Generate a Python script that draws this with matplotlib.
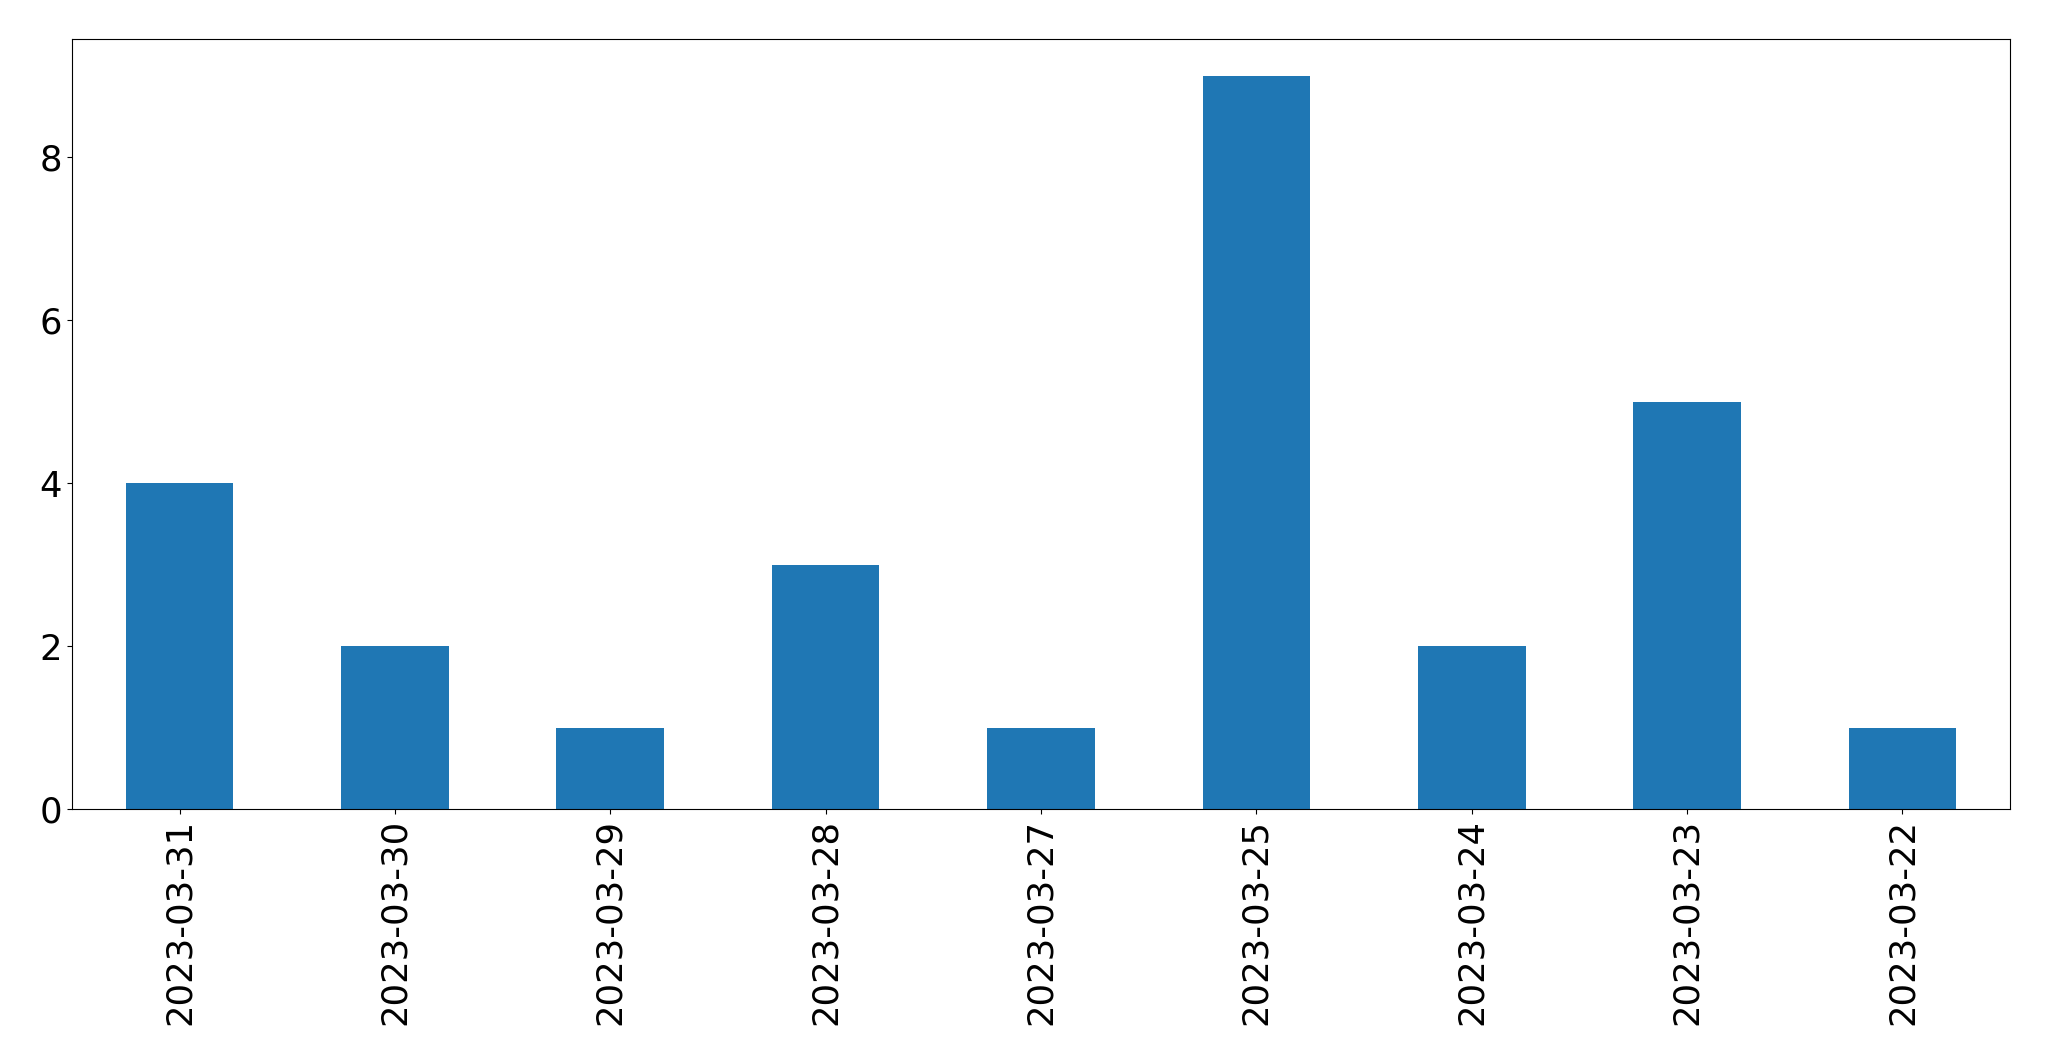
import matplotlib.pyplot as plt
import numpy as np

dates = ['2023-03-31', '2023-03-30', '2023-03-29', '2023-03-28', '2023-03-27',
         '2023-03-25', '2023-03-24', '2023-03-23', '2023-03-22']
counts = [4, 2, 1, 3, 1, 9, 2, 5, 1]

plt.rcParams['font.size'] = 25.5
fig = plt.figure(figsize=(20.49, 10.61), dpi=100)
ax = fig.add_axes([0.0351, 0.2375, 0.9459, 0.7255])

x = np.arange(len(dates))
ax.bar(x, counts, width=0.5, color='#1f77b4')
ax.set_xticks(x)
ax.set_xticklabels(dates, rotation=90)
ax.set_xlim(-0.5, len(dates) - 0.5)
ax.set_ylim(0, 9.45)

fig.savefig('out.png', dpi=100)
